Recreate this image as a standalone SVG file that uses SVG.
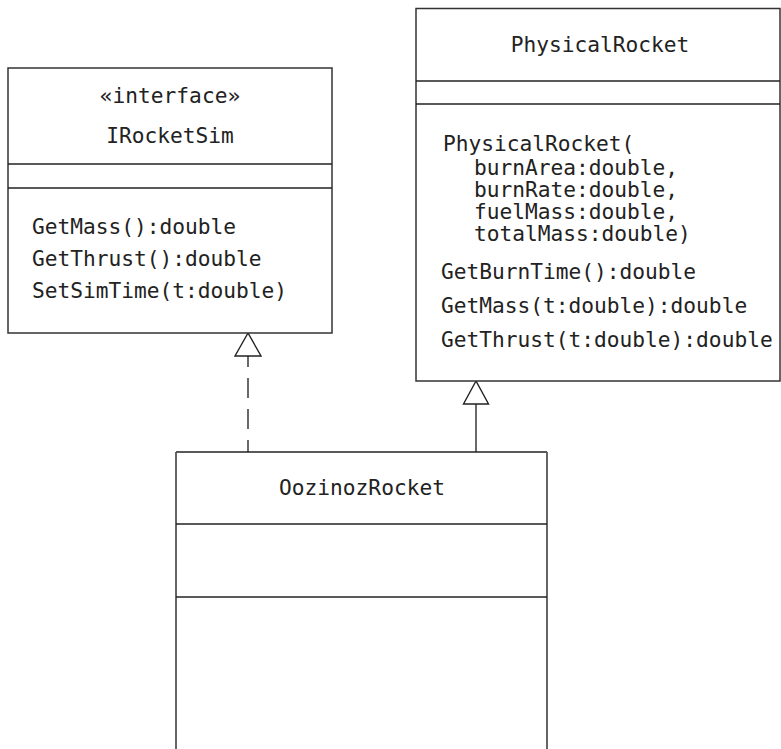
<svg xmlns="http://www.w3.org/2000/svg" width="781" height="749" viewBox="0 0 781 749">
  <style>
    .box { fill: #fff; stroke: #333; stroke-width: 1.5; }
    .div { stroke: #222; stroke-width: 1.4; fill: none; }
    .side { stroke: #555; stroke-width: 1.8; fill: none; }
    .t { font-family: "DejaVu Sans Mono", "Liberation Mono", monospace; font-size: 21.2px; fill: #222; }
    .c { text-anchor: middle; }
    .edge { stroke: #444; stroke-width: 1.6; fill: none; }
    .dash { stroke-dasharray: 20 11; stroke-dashoffset: 9; }
    .head { fill: #fff; stroke: #222; stroke-width: 1.4; }
  </style>

  <!-- connectors: realization and generalization -->
  <g id="connectors">
    <line class="edge dash" x1="248" y1="356" x2="248" y2="452"/>
    <polygon class="head" points="248,333 235,356 261,356"/>
    <line class="edge" x1="476" y1="404" x2="476" y2="452"/>
    <polygon class="head" points="476,381 463.5,404 488.5,404"/>
  </g>

  <!-- interface IRocketSim -->
  <g id="IRocketSim">
    <rect class="box" x="8" y="68" width="324" height="265"/>
    <line class="div" x1="8" y1="164" x2="332" y2="164"/>
    <line class="div" x1="8" y1="188" x2="332" y2="188"/>
    <text class="t c" x="170" y="103">«interface»</text>
    <text class="t c" x="170" y="143">IRocketSim</text>
    <text class="t" x="32" y="234">GetMass():double</text>
    <text class="t" x="32" y="266">GetThrust():double</text>
    <text class="t" x="32" y="297.5">SetSimTime(t:double)</text>
  </g>

  <!-- class PhysicalRocket: constructor signature wraps over five lines -->
  <g id="PhysicalRocket">
    <rect class="box" x="416" y="8.5" width="364" height="372.5"/>
    <line class="div" x1="416" y1="81" x2="780" y2="81"/>
    <line class="div" x1="416" y1="104" x2="780" y2="104"/>
    <text class="t c" x="600" y="52">PhysicalRocket</text>
    <text class="t" x="443" y="151">PhysicalRocket(<tspan x="474" y="175">burnArea:double,</tspan><tspan x="474" y="197">burnRate:double,</tspan><tspan x="474" y="219">fuelMass:double,</tspan><tspan x="474" y="241">totalMass:double)</tspan></text>
    <text class="t" x="441" y="278.5">GetBurnTime():double</text>
    <text class="t" x="441" y="313">GetMass(t:double):double</text>
    <text class="t" x="441" y="347">GetThrust(t:double):double</text>
  </g>

  <!-- class OozinozRocket (continues past the lower edge) -->
  <g id="OozinozRocket">
    <rect x="176" y="452" width="371" height="300" fill="#fff"/>
    <line class="div" x1="176" y1="452" x2="547" y2="452"/>
    <line class="side" x1="176" y1="452" x2="176" y2="749"/>
    <line class="side" x1="547" y1="452" x2="547" y2="749"/>
    <line class="div" x1="176" y1="524" x2="547" y2="524"/>
    <line class="div" x1="176" y1="597" x2="547" y2="597"/>
    <text class="t c" x="362" y="495">OozinozRocket</text>
  </g>
</svg>
